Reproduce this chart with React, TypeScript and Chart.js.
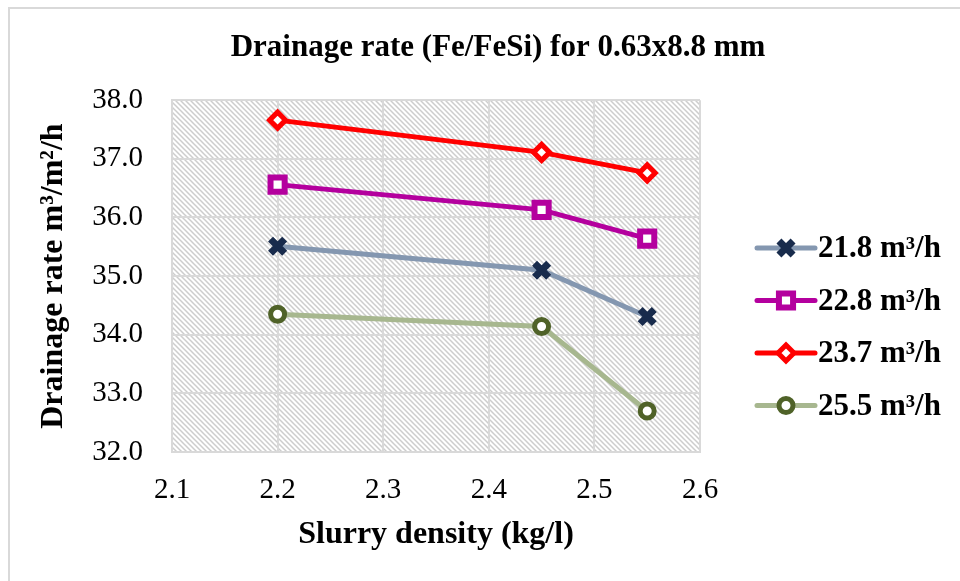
import React, { useEffect, useRef } from 'react';
import { Chart, registerables } from 'chart.js';
import { drawPoint } from 'chart.js/helpers';

Chart.register(...registerables);

// ---- data ----
const densities = [2.2, 2.45, 2.55];
const seriesLabels = ['21.8 m³/h', '22.8 m³/h', '23.7 m³/h', '25.5 m³/h'];
const rate218 = [35.51, 35.1, 34.31];
const rate228 = [36.56, 36.13, 35.64];
const rate237 = [37.66, 37.11, 36.76];
const rate255 = [34.35, 34.14, 32.7];
const xTickValues = [2.1, 2.2, 2.3, 2.4, 2.5, 2.6];
const yTickValues = [32, 33, 34, 35, 36, 37, 38];
const chartTitle = 'Drainage rate (Fe/FeSi) for 0.63x8.8 mm';
const xTitle = 'Slurry density (kg/l)';
const yTitle = 'Drainage rate m³/m²/h';

const SERIF = '"Liberation Serif", "Times New Roman", serif';

function makeHatch(): CanvasPattern | string {
  const c = document.createElement('canvas');
  const s = 5;
  c.width = s;
  c.height = s;
  const g = c.getContext('2d');
  if (!g) return '#eee';
  g.fillStyle = '#ffffff';
  g.fillRect(0, 0, s, s);
  g.strokeStyle = '#cdcdcd';
  g.lineWidth = 1.5;
  g.beginPath();
  g.moveTo(-1, -1);
  g.lineTo(s + 1, s + 1);
  g.moveTo(-1, s - 1);
  g.lineTo(1, s + 1);
  g.moveTo(s - 1, -1);
  g.lineTo(s + 1, 1);
  g.stroke();
  const p = g.createPattern(c, 'repeat');
  return p || '#eee';
}

const hatchPlugin = {
  id: 'hatchBg',
  beforeDraw(chart: any) {
    const { ctx, chartArea } = chart;
    if (!chartArea) return;
    ctx.save();
    ctx.fillStyle = makeHatch();
    ctx.fillRect(chartArea.left, chartArea.top, chartArea.right - chartArea.left, chartArea.bottom - chartArea.top);
    ctx.restore();
  },
};

const legendPlugin = {
  id: 'lineLegend',
  afterDraw(chart: any) {
    const { ctx } = chart;
    const startX = 757;
    const lineW = 58;
    const textX = 818;
    const top = 248;
    const gap = 52.5;
    chart.data.datasets.forEach((ds: any, i: number) => {
      const y = top + i * gap;
      ctx.save();
      ctx.strokeStyle = ds.borderColor;
      ctx.lineWidth = ds.borderWidth;
      ctx.lineCap = 'round';
      ctx.beginPath();
      ctx.moveTo(startX, y);
      ctx.lineTo(startX + lineW, y);
      ctx.stroke();
      ctx.lineCap = 'butt';
      ctx.fillStyle = ds.pointBackgroundColor;
      ctx.strokeStyle = ds.pointBorderColor;
      ctx.lineWidth = ds.pointBorderWidth;
      drawPoint(ctx, { pointStyle: ds.pointStyle, radius: ds.pointRadius, rotation: 0, borderWidth: ds.pointBorderWidth }, startX + lineW / 2, y);
      ctx.fillStyle = '#000000';
      ctx.font = `bold 31px ${SERIF}`;
      ctx.textAlign = 'left';
      ctx.textBaseline = 'middle';
      ctx.fillText(ds.label, textX, y + 1);
      ctx.restore();
    });
  },
};

function pts(vals: number[]) {
  return densities.map((x, i) => ({ x, y: vals[i] }));
}

export default function App() {
  const ref = useRef<HTMLCanvasElement | null>(null);

  useEffect(() => {
    if (!ref.current) return;
    const chart = new Chart(ref.current, {
      type: 'line',
      data: {
        datasets: [
          {
            label: seriesLabels[0],
            data: pts(rate218),
            borderColor: '#8497b0',
            borderWidth: 5,
            pointStyle: 'crossRot',
            pointRadius: 10,
            pointBorderWidth: 7,
            pointBorderColor: '#182b4c',
            pointBackgroundColor: '#182b4c',
          },
          {
            label: seriesLabels[1],
            data: pts(rate228),
            borderColor: '#b4009e',
            borderWidth: 5,
            pointStyle: 'rect',
            pointRadius: 10,
            pointBorderWidth: 6,
            pointBorderColor: '#b4009e',
            pointBackgroundColor: '#ffffff',
          },
          {
            label: seriesLabels[2],
            data: pts(rate237),
            borderColor: '#ff0000',
            borderWidth: 5,
            pointStyle: 'rectRot',
            pointRadius: 8,
            pointBorderWidth: 5,
            pointBorderColor: '#ff0000',
            pointBackgroundColor: '#ffffff',
          },
          {
            label: seriesLabels[3],
            data: pts(rate255),
            borderColor: '#a7b78f',
            borderWidth: 5,
            pointStyle: 'circle',
            pointRadius: 7,
            pointBorderWidth: 5,
            pointBorderColor: '#4f6228',
            pointBackgroundColor: '#ffffff',
          },
        ] as any,
      },
      options: {
        responsive: false,
        animation: false,
        layout: { padding: 0 },
        plugins: {
          legend: { display: false },
          tooltip: { enabled: false },
          title: {
            display: true,
            text: chartTitle,
            color: '#000000',
            font: { family: SERIF, size: 31, weight: 'bold' },
            padding: { top: 29, bottom: 34 },
          },
        },
        scales: {
          x: {
            type: 'linear',
            min: 2.1,
            max: 2.6,
            afterBuildTicks: (s: any) => {
              s.ticks = xTickValues.map((v) => ({ value: v }));
            },
            afterFit: (s: any) => {
              s.height = 129;
            },
            ticks: {
              color: '#000000',
              font: { family: SERIF, size: 29 },
              padding: 21,
              maxRotation: 0,
              autoSkip: false,
              callback: (v: any) => Number(v).toFixed(1),
            },
            grid: { color: '#d9d9d9', lineWidth: 2, drawTicks: false },
            border: { display: true, color: '#d9d9d9', width: 2 },
            title: {
              display: true,
              text: xTitle,
              color: '#000000',
              font: { family: SERIF, size: 32, weight: 'bold' },
              padding: { top: 0, bottom: 27 },
            },
          },
          y: {
            type: 'linear',
            position: 'left',
            min: 32,
            max: 38,
            afterBuildTicks: (s: any) => {
              s.ticks = yTickValues.map((v) => ({ value: v }));
            },
            afterFit: (s: any) => {
              s.width = 172;
            },
            ticks: {
              color: '#000000',
              font: { family: SERIF, size: 29 },
              padding: 29,
              callback: (v: any) => Number(v).toFixed(1),
            },
            grid: { color: '#d9d9d9', lineWidth: 2, drawTicks: false },
            border: { display: true, color: '#d9d9d9', width: 2 },
            title: {
              display: true,
              text: yTitle,
              color: '#000000',
              font: { family: SERIF, size: 32, weight: 'bold' },
              padding: { top: 35, bottom: 0 },
            },
          },
          legendSpace: {
            type: 'linear',
            position: 'right',
            display: true,
            grid: { display: false, drawTicks: false },
            border: { display: false },
            ticks: { display: false },
            afterFit: (s: any) => {
              s.width = 296;
            },
          },
        },
      } as any,
      plugins: [hatchPlugin, legendPlugin],
    });
    return () => chart.destroy();
  }, []);

  return (
    <div style={{ position: 'absolute', left: 0, top: 0, width: 960, height: 581, overflow: 'hidden', background: '#ffffff' }}>
      <div
        style={{
          position: 'absolute',
          left: 8,
          top: 7,
          width: 1200,
          height: 800,
          borderLeft: '2px solid #d9d9d9',
          borderTop: '2px solid #d9d9d9',
        }}
      />
      <canvas ref={ref} width={996} height={581} style={{ position: 'absolute', left: 0, top: 0, width: 996, height: 581 }} />
    </div>
  );
}
